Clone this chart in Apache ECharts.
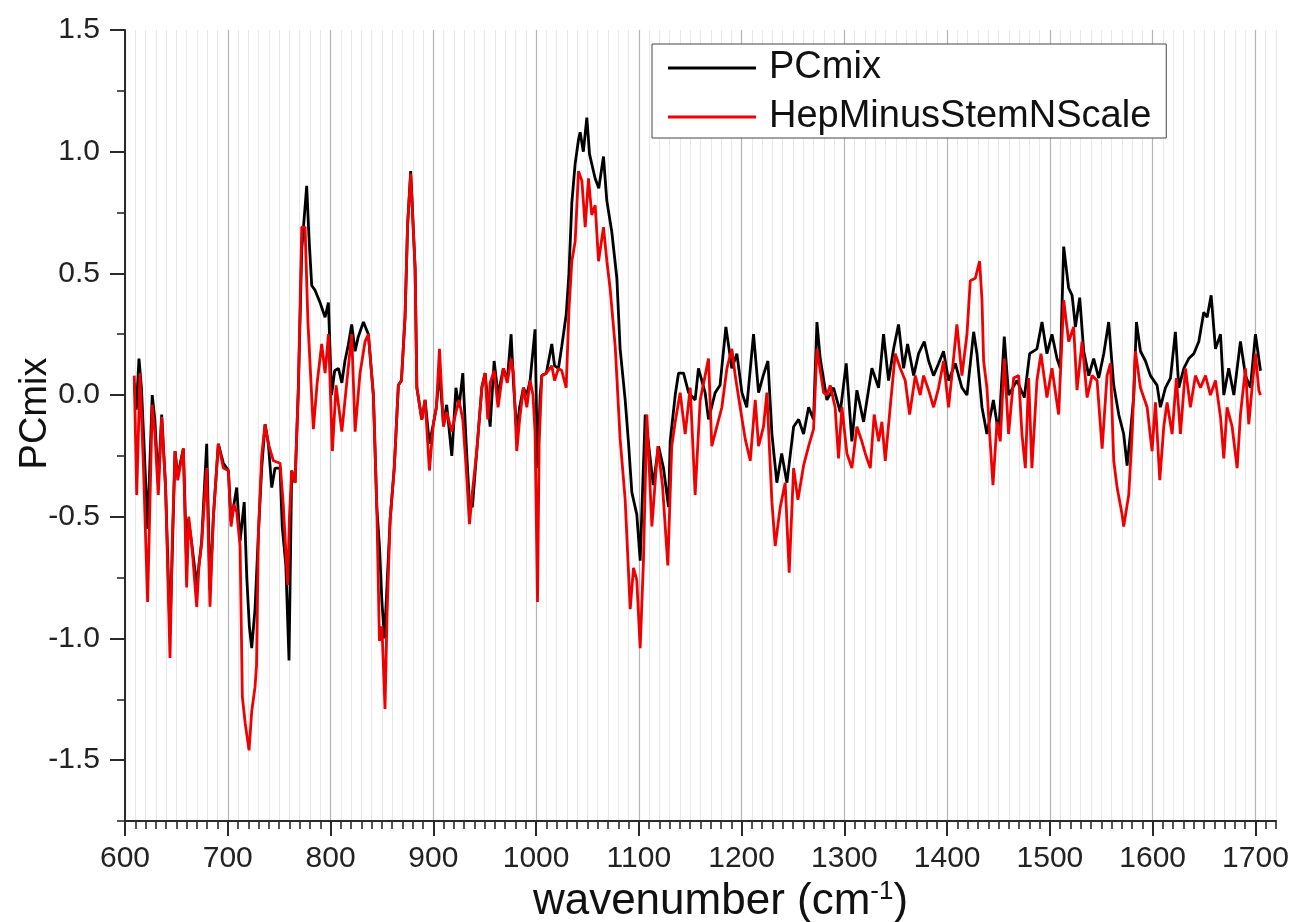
<!DOCTYPE html>
<html>
<head>
<meta charset="utf-8">
<script src="https://cdn.jsdelivr.net/npm/echarts@6/dist/echarts.min.js"></script>
<style>
html,body{margin:0;padding:0;background:#fff;}
#chart{width:1294px;height:922px;}
</style>
</head>
<body>
<div id="chart"></div>
<script>
// ---- data ----
const seriesNames = ['PCmix', 'HepMinusStemNScale'];
const xTickLabels = [600, 700, 800, 900, 1000, 1100, 1200, 1300, 1400, 1500, 1600, 1700];
const yTickLabels = [-1.5, -1.0, -0.5, 0.0, 0.5, 1.0, 1.5];

const pcmixX = [609,611,613.6,616,619.5,622,626.5,629,632.4,635.7,639.5,643.8,648.7,651.3,656.8,660,661.7,664.9,669.8,671.4,674.6,679.5,682.7,686,690.8,695.7,700.6,703.2,708.7,712,716,718.5,721,723.3,726.5,729.8,733,736.3,739.5,742.8,746,750.9,753,756.5,759.6,762.2,765.5,768.7,772,776.8,779,781.7,785,789.8,794.7,797.9,801,804,807.7,811,814,817,820.6,823.9,827,832,836.8,841.7,845,847.6,850,852.5,855,858,862,866,869,872.5,875,878,882.3,884,888.8,892,896.2,900,903,906,909.9,913,918,922,925,928.7,932,935.2,938,942.3,947.2,950.4,955.3,959.2,963,968.2,972,975.7,978,981.2,984,987.7,991,994.2,999,1001.4,1004,1005.6,1010,1015.3,1018,1021.8,1025,1029.3,1032,1034.8,1038,1041.3,1042.9,1046,1049.4,1052,1057.5,1061,1065.6,1068.8,1073.7,1078.6,1081.8,1086.7,1090,1093.2,1098,1101.3,1106.2,1114,1119.2,1124,1128.9,1130.5,1135.4,1138.6,1143.5,1148.4,1154.8,1158,1164.5,1167.8,1174.3,1179,1184.7,1190.5,1195.4,1200.3,1205,1211.6,1216.5,1221,1225.6,1229.5,1234.3,1239,1244.1,1250.6,1255.5,1260.3,1265.2,1270,1273.3,1276.5,1283,1289.5,1296,1301.8,1307.3,1312.2,1318.7,1326.8,1333.3,1338.1,1343,1347.9,1352.7,1357.6,1361.5,1367.4,1372.2,1377.7,1382,1386.8,1391.7,1396.5,1401.4,1407.9,1414.4,1419.3,1425.8,1429,1433.9,1438.7,1445,1450.1,1455.6,1459.8,1467.9,1475.1,1480.3,1487.4,1492.3,1497.1,1502,1506.9,1510.1,1513.4,1518.2,1521.6,1524.8,1529,1532.9,1537.8,1542.6,1547.5,1552.4,1557.2,1562.1,1567,1571.8,1575.1,1578.3,1581.6,1584.2,1588.1,1593,1597.8,1604.3,1607.5,1612.4,1617.3,1622.1,1625.4,1630.3,1635.1,1640,1644.9,1649.7,1653,1656.9,1661.1,1666,1669.2,1674,1679,1685.4,1690.3,1695.1,1700,1704.9];
const pcmixY = [0.05,-0.06,0.15,0.03,-0.3,-0.55,0.0,-0.1,-0.36,-0.08,-0.38,-0.98,-0.23,-0.33,-0.22,-0.7,-0.51,-0.61,-0.78,-0.72,-0.6,-0.2,-0.8,-0.5,-0.2,-0.28,-0.31,-0.52,-0.38,-0.6,-0.44,-0.75,-0.95,-1.04,-0.88,-0.57,-0.3,-0.12,-0.2,-0.38,-0.3,-0.3,-0.54,-0.7,-1.09,-0.31,-0.36,0.03,0.6,0.86,0.65,0.45,0.43,0.38,0.32,0.38,0.0,0.1,0.11,0.05,0.14,0.2,0.29,0.18,0.24,0.3,0.25,0.0,-0.46,-0.62,-0.85,-1.0,-0.78,-0.51,-0.3,0.04,0.06,0.32,0.7,0.92,0.52,0.03,-0.1,-0.02,-0.2,-0.12,-0.05,0.1,-0.12,-0.04,-0.25,0.03,-0.05,0.09,-0.2,-0.45,-0.46,-0.23,0.03,0.09,-0.13,0.14,0.0,0.11,0.06,0.25,0.05,-0.15,-0.05,0.03,0.0,0.06,0.27,-0.3,0.0,0.08,0.09,0.21,0.12,0.11,0.2,0.33,0.5,0.79,0.95,1.05,1.08,1.0,1.14,0.99,0.89,0.85,0.98,0.8,0.67,0.48,0.19,-0.02,-0.2,-0.4,-0.49,-0.68,-0.08,-0.37,-0.21,-0.3,-0.46,-0.19,0.0,0.09,0.09,0.01,-0.02,0.11,0.01,-0.1,0.01,0.04,0.28,0.11,0.17,0.01,-0.05,0.25,0.01,0.08,0.14,-0.16,-0.36,-0.24,-0.36,-0.13,-0.1,-0.16,-0.05,-0.1,0.3,0.15,-0.02,0.03,-0.07,0.13,-0.19,0.02,-0.11,0.11,0.03,0.25,0.06,0.19,0.29,0.11,0.21,0.08,0.17,0.22,0.14,0.08,0.13,0.18,0.06,0.13,0.03,0.0,0.26,0.17,-0.05,-0.16,-0.02,-0.16,0.24,0.0,0.06,-0.01,0.17,0.19,0.3,0.17,0.25,0.15,0.11,0.61,0.44,0.41,0.28,0.4,0.18,0.08,0.15,0.07,0.17,0.3,0.04,-0.08,-0.16,-0.29,-0.16,0.0,0.3,0.18,0.14,0.08,0.04,-0.05,0.03,0.07,0.26,0.03,0.11,0.15,0.17,0.22,0.34,0.32,0.41,0.19,0.25,0.0,0.11,0.0,0.22,0.08,0.03,0.25,0.1];

const hepX = [609,611.4,614.6,618,622,626.5,629,632.4,635.7,639.5,643.8,646,648.7,651.3,656.8,660,662,664.9,669.8,672,674.6,677,679.5,682.7,686,690.8,695.7,700.6,703.2,706,708.7,712,714.2,717,720.7,723.3,726.5,728,729.8,733,736.3,739.5,744.4,750.9,754,758.3,760,762.2,765.5,768.7,772,775.2,778,783.3,787,791.4,794.7,798,801.8,805.4,811,816,820.6,823.9,828.7,833.6,836.8,841.7,845,847.6,850,853,855,858,862,866,869,872.5,875,878,882.3,884,888.8,892,896.2,900,903,906,909.9,913,918,922,925,928.7,932,935.2,938,942.3,947.2,950.4,953,955.3,959.2,963,968.2,972,975.7,978,981.2,984,987.7,991,994.2,997,999,1001.4,1003,1005.6,1010,1015.3,1018,1021.8,1025,1029.3,1032,1034.8,1038,1041.3,1044.6,1047.8,1051,1054.2,1057.5,1060.8,1065.6,1068.9,1072,1077,1081.8,1086.7,1091.6,1094.8,1098,1101.3,1104.5,1107.8,1112.7,1118.5,1123,1128.2,1132,1135.4,1140.2,1145.1,1150,1154.8,1159.7,1164.5,1167.8,1171,1175.9,1180.8,1185.7,1190.5,1193.8,1198.6,1203.5,1208.4,1213.3,1216.5,1221.3,1224.6,1229.5,1232.7,1237.6,1242.4,1246.3,1250.6,1254.8,1260.3,1265.2,1270,1273.3,1279.8,1283,1286.2,1291,1294.3,1297.6,1302.5,1307.3,1312.2,1317,1320.3,1325.2,1329,1333.3,1336.5,1339.8,1344.6,1349.5,1354.4,1359.2,1363.5,1369,1373.8,1377.1,1382,1386.8,1391.7,1396.5,1401.4,1404.6,1409.5,1414.4,1419.3,1422.5,1427.4,1431.6,1433.9,1435.5,1438.7,1442,1444.6,1448.5,1451.7,1455.6,1459.8,1464.7,1469.6,1472.8,1476.1,1479.3,1482.5,1487.4,1491.3,1497.1,1502,1508.5,1513.4,1518.3,1523.1,1526.4,1531.3,1536.2,1541,1545.9,1550.8,1555.6,1558.9,1562.1,1565.4,1570.2,1571.8,1576.7,1580,1583.2,1588.1,1594.6,1599.4,1602.7,1606.9,1610.8,1614,1618.9,1623.1,1627,1631.9,1636.7,1641.6,1646.5,1651.4,1656.2,1661.1,1666,1669.2,1672.4,1677.3,1682.2,1685.4,1690.3,1693.5,1696.7,1700,1703.3,1704.9];
const hepY = [0.08,-0.41,0.09,-0.3,-0.85,-0.04,-0.15,-0.41,-0.09,-0.38,-1.08,-0.6,-0.23,-0.35,-0.22,-0.79,-0.5,-0.61,-0.87,-0.7,-0.61,-0.45,-0.3,-0.87,-0.5,-0.2,-0.3,-0.31,-0.54,-0.45,-0.48,-0.62,-1.24,-1.35,-1.46,-1.3,-1.2,-1.11,-0.57,-0.25,-0.12,-0.2,-0.27,-0.28,-0.45,-0.78,-0.5,-0.31,-0.36,0.03,0.69,0.69,0.3,-0.14,0.05,0.21,0.09,0.25,-0.23,0.04,-0.15,0.06,0.25,-0.15,0.09,0.22,0.25,0.0,-0.46,-1.01,-0.95,-1.29,-0.9,-0.51,-0.3,0.04,0.06,0.32,0.7,0.91,0.52,0.03,-0.1,-0.02,-0.31,-0.12,-0.05,0.19,-0.13,-0.07,-0.15,-0.07,-0.02,-0.1,-0.3,-0.53,-0.4,-0.23,0.03,0.09,-0.1,0.05,0.1,-0.05,0.11,0.05,0.15,0.09,-0.23,-0.1,0.03,-0.05,0.06,0.0,-0.15,-0.85,-0.2,0.08,0.09,0.12,0.06,0.11,0.1,0.03,0.35,0.55,0.63,0.92,0.88,0.69,0.89,0.74,0.78,0.55,0.69,0.55,0.44,0.2,-0.18,-0.43,-0.88,-0.71,-0.76,-1.04,-0.68,-0.08,-0.54,-0.21,-0.37,-0.7,-0.21,-0.11,0.01,-0.16,0.03,-0.41,-0.02,0.08,0.15,-0.21,-0.13,-0.05,0.11,0.19,0.08,-0.05,-0.18,-0.27,-0.02,-0.21,-0.13,0.01,-0.44,-0.62,-0.46,-0.36,-0.73,-0.3,-0.43,-0.29,-0.21,-0.14,0.19,0.01,0.0,0.04,-0.05,-0.26,-0.05,-0.24,-0.3,-0.13,-0.19,-0.24,-0.3,-0.08,-0.19,-0.11,-0.27,-0.05,0.17,0.11,0.06,-0.08,0.08,0.0,0.08,0.02,-0.05,0.03,0.14,-0.05,0.08,0.29,0.08,0.25,0.47,0.48,0.55,0.39,0.14,0.03,-0.2,-0.37,-0.11,-0.19,0.15,-0.16,0.07,0.08,-0.16,-0.3,0.07,-0.3,0.06,0.17,-0.01,0.11,-0.08,0.39,0.22,0.28,0.02,0.22,-0.01,0.08,0.06,-0.22,0.08,0.13,-0.27,-0.38,-0.49,-0.54,-0.41,-0.16,0.18,0.03,-0.05,-0.23,-0.03,-0.35,-0.13,-0.03,-0.16,0.07,-0.16,0.11,-0.05,0.08,0.03,0.08,0.0,0.06,-0.09,-0.26,-0.05,-0.13,-0.3,-0.08,0.11,-0.12,0.03,0.17,0.02,0.0];

// ---- chart ----
const FONT = '"Liberation Sans", Arial, sans-serif';
const chart = echarts.init(document.getElementById('chart'), null, {renderer: 'canvas'});
const pair = (xs, ys) => xs.map((x, i) => [x, ys[i]]);

const option = {
  backgroundColor: '#ffffff',
  animation: false,
  grid: {left: 125, right: 18, top: 30, bottom: 101, containLabel: false, outerBoundsMode: 'none'},
  legend: {
    show: true,
    orient: 'vertical',
    left: 652,
    top: 44,
    data: seriesNames,
    icon: 'rect',
    itemWidth: 88,
    itemHeight: 3,
    itemGap: 9,
    padding: [4, 15, 1, 16],
    borderColor: '#444',
    borderWidth: 1,
    backgroundColor: '#ffffff',
    textStyle: {fontFamily: FONT, fontSize: 38, color: '#111', lineHeight: 40, padding: [0, 0, 0, 8]}
  },
  xAxis: [
    {
      type: 'value', min: 600, max: 1720, position: 'bottom', z: 1,
      name: 'wavenumber (cm{sup|-1})',
      nameLocation: 'middle', nameGap: 37,
      nameTextStyle: {
        fontFamily: FONT, fontSize: 44, color: '#111', padding: [0, 0, 0, 40],
        rich: {sup: {fontFamily: FONT, fontSize: 26, color: '#111', padding: [0, 0, 20, 0]}}
      },
      axisLine: {show: true, onZero: false, lineStyle: {color: '#2a2a2a', width: 2}},
      axisTick: {show: true, inside: false, length: 15, customValues: xTickLabels, lineStyle: {color: '#2a2a2a', width: 2}},
      axisLabel: {show: true, customValues: xTickLabels, margin: 23, fontFamily: FONT, fontSize: 30, color: '#222',
        formatter: v => String(v)},
      splitLine: {show: true, lineStyle: {color: '#b4b4b4', width: 1.2}}
    },
    {
      type: 'value', min: 600, max: 1720, interval: 10, position: 'bottom', z: 0,
      axisLine: {show: false, onZero: false},
      axisTick: {show: true, inside: false, length: 8, lineStyle: {color: '#2a2a2a', width: 1.6}},
      axisLabel: {show: false},
      splitLine: {show: true, lineStyle: {color: '#e8e8e8', width: 1}}
    }
  ],
  yAxis: [
    {
      type: 'value', min: -1.75, max: 1.5, position: 'left', z: 1,
      name: 'PCmix', nameLocation: 'middle', nameGap: 70, nameRotate: 90, nameMoveOverlap: false,
      nameTextStyle: {fontFamily: FONT, fontSize: 38, color: '#111', padding: [0, 0, 0, 24]},
      axisLine: {show: true, onZero: false, lineStyle: {color: '#2a2a2a', width: 2}},
      axisTick: {show: true, inside: false, length: 15, customValues: yTickLabels, lineStyle: {color: '#2a2a2a', width: 2}},
      axisLabel: {show: true, customValues: yTickLabels, margin: 25, fontFamily: FONT, fontSize: 30, color: '#222',
        formatter: v => Number(v).toFixed(1)},
      splitLine: {show: false}
    },
    {
      type: 'value', min: -1.75, max: 1.5, interval: 0.25, position: 'left', z: 0,
      axisLine: {show: false, onZero: false},
      axisTick: {show: true, inside: false, length: 8, lineStyle: {color: '#2a2a2a', width: 1.6}},
      axisLabel: {show: false},
      splitLine: {show: false}
    }
  ],
  series: [
    {
      name: seriesNames[0], type: 'line', xAxisIndex: 0, yAxisIndex: 0,
      data: pair(pcmixX, pcmixY),
      showSymbol: false, symbol: 'none', z: 3,
      lineStyle: {color: '#000000', width: 2.8},
      itemStyle: {color: '#000000'}
    },
    {
      name: seriesNames[1], type: 'line', xAxisIndex: 0, yAxisIndex: 0,
      data: pair(hepX, hepY),
      showSymbol: false, symbol: 'none', z: 4,
      lineStyle: {color: '#f00000', width: 2.8},
      itemStyle: {color: '#f00000'}
    }
  ]
};
chart.setOption(option);
</script>
</body>
</html>
